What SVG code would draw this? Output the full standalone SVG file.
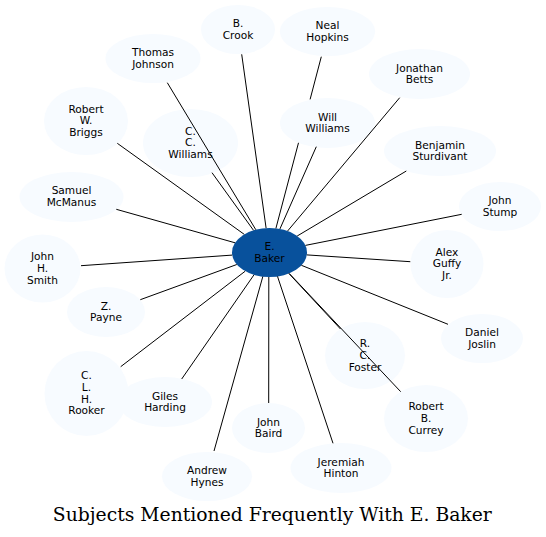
<svg xmlns="http://www.w3.org/2000/svg" width="546" height="537" viewBox="0 0 546 537">
<style>
.node ellipse{fill:#f7fbff;stroke:none}
#e_baker ellipse{fill:#08519c}
.node text{font-family:"DejaVu Sans","Noto Sans",sans-serif;font-size:10.6px;fill:#000;text-anchor:middle}
.edges path{stroke:#000;stroke-width:1;fill:none}
.title{font-family:"DejaVu Serif","Liberation Serif",serif;font-size:18.8px;fill:#000;text-anchor:middle}
</style>
<rect width="546" height="537" fill="#fff"/>
<g id="nodes">
<g id="b_crook" class="node"><ellipse cx="238" cy="29.5" rx="37" ry="24.5"/><text x="238" y="27">B.</text><text x="238" y="38.7">Crook</text></g>
<g id="thomas_johnson" class="node"><ellipse cx="153" cy="58.5" rx="47.5" ry="24.5"/><text x="153" y="56">Thomas</text><text x="153" y="67.7">Johnson</text></g>
<g id="robert_w_briggs" class="node"><ellipse cx="86" cy="121" rx="42" ry="34"/><text x="86" y="112.6">Robert</text><text x="86" y="124.3">W.</text><text x="86" y="136">Briggs</text></g>
<g id="c_c_williams" class="node"><ellipse cx="190.5" cy="143" rx="47.5" ry="34"/><text x="190.5" y="134.6">C.</text><text x="190.5" y="146.3">C.</text><text x="190.5" y="158">Williams</text></g>
<g id="samuel_mcmanus" class="node"><ellipse cx="71.5" cy="197" rx="52" ry="25"/><text x="71.5" y="193.8">Samuel</text><text x="71.5" y="205.5">McManus</text></g>
<g id="john_h_smith" class="node"><ellipse cx="42.5" cy="268.5" rx="38" ry="34"/><text x="42.5" y="260.1">John</text><text x="42.5" y="271.8">H.</text><text x="42.5" y="283.5">Smith</text></g>
<g id="z_payne" class="node"><ellipse cx="106" cy="312" rx="39" ry="25"/><text x="106" y="309.5">Z.</text><text x="106" y="321.2">Payne</text></g>
<g id="c_l_h_rooker" class="node"><ellipse cx="86.5" cy="393.5" rx="42" ry="42.5"/><text x="86.5" y="379.3">C.</text><text x="86.5" y="391">L.</text><text x="86.5" y="402.7">H.</text><text x="86.5" y="414.4">Rooker</text></g>
<g id="giles_harding" class="node"><ellipse cx="165" cy="402" rx="47" ry="25"/><text x="165" y="399.5">Giles</text><text x="165" y="411.2">Harding</text></g>
<g id="andrew_hynes" class="node"><ellipse cx="207" cy="476.5" rx="45" ry="24.5"/><text x="207" y="474">Andrew</text><text x="207" y="485.7">Hynes</text></g>
<g id="john_baird" class="node"><ellipse cx="268.5" cy="428" rx="36.5" ry="25"/><text x="268.5" y="425.5">John</text><text x="268.5" y="437.2">Baird</text></g>
<g id="jeremiah_hinton" class="node"><ellipse cx="341" cy="468" rx="50.5" ry="25"/><text x="341" y="465.5">Jeremiah</text><text x="341" y="477.2">Hinton</text></g>
<g id="robert_b_currey" class="node"><ellipse cx="426" cy="418.5" rx="42" ry="33.5"/><text x="426" y="410.1">Robert</text><text x="426" y="421.8">B.</text><text x="426" y="433.5">Currey</text></g>
<g id="r_c_foster" class="node"><ellipse cx="365" cy="355.5" rx="40" ry="33.5"/><text x="365" y="347.1">R.</text><text x="365" y="358.8">C.</text><text x="365" y="370.5">Foster</text></g>
<g id="daniel_joslin" class="node"><ellipse cx="482" cy="338.5" rx="41" ry="24.5"/><text x="482" y="336">Daniel</text><text x="482" y="347.7">Joslin</text></g>
<g id="alex_guffy_jr" class="node"><ellipse cx="447" cy="264" rx="36.5" ry="34"/><text x="447" y="255.6">Alex</text><text x="447" y="267.3">Guffy</text><text x="447" y="279">Jr.</text></g>
<g id="john_stump" class="node"><ellipse cx="500" cy="206.5" rx="41" ry="24.5"/><text x="500" y="204">John</text><text x="500" y="215.7">Stump</text></g>
<g id="benjamin_sturdivant" class="node"><ellipse cx="440" cy="151" rx="56" ry="25"/><text x="440" y="148.5">Benjamin</text><text x="440" y="160.2">Sturdivant</text></g>
<g id="jonathan_betts" class="node"><ellipse cx="419.5" cy="74" rx="50.5" ry="25"/><text x="419.5" y="71.5">Jonathan</text><text x="419.5" y="83.2">Betts</text></g>
<g id="neal_hopkins" class="node"><ellipse cx="327.5" cy="31.5" rx="47.5" ry="24.5"/><text x="327.5" y="29">Neal</text><text x="327.5" y="40.7">Hopkins</text></g>
<g id="will_williams" class="node"><ellipse cx="327.5" cy="123" rx="47.5" ry="25"/><text x="327.5" y="120.5">Will</text><text x="327.5" y="132.2">Williams</text></g>
<g id="e_baker" class="node"><ellipse cx="269.5" cy="252.5" rx="37.5" ry="24.5"/><text x="269.5" y="250">E.</text><text x="269.5" y="261.7">Baker</text></g>
</g>
<g id="connectors" class="edges">
<path d="M266.1,228.1L241.7,54.3"/>
<path d="M255.8,229.7L167.3,82.7"/>
<path d="M244.3,234.4L117.3,143.3"/>
<path d="M253.5,230.3L212,172.7"/>
<path d="M235.1,242.8L116.3,209.3"/>
<path d="M232.2,255.1L81,265.7"/>
<path d="M236.8,264.5L140.3,299.7"/>
<path d="M245.2,271.2L120.7,366.7"/>
<path d="M254,274.8L181.7,379"/>
<path d="M262.8,276.6L214,451"/>
<path d="M268.8,277L268.7,403"/>
<path d="M277.5,276.4L333,443.3"/>
<path d="M289.2,273.4L400.7,391.7"/>
<path d="M288.9,273.5L340.5,329"/>
<path d="M301.4,265.3L448,324.3"/>
<path d="M306.8,254.9L410.3,261.7"/>
<path d="M305.4,245.4L461.7,214.3"/>
<path d="M297.2,236L406.3,171"/>
<path d="M287.6,231L399.7,97.7"/>
<path d="M279.9,229L316.3,146.7"/>
<path d="M275.9,228.4L298.5,142.8M310.1,99.4L321.3,56.7"/>
</g>
<text class="title" x="272.3" y="521" textLength="439" lengthAdjust="spacingAndGlyphs">Subjects Mentioned Frequently With E. Baker</text>
</svg>
